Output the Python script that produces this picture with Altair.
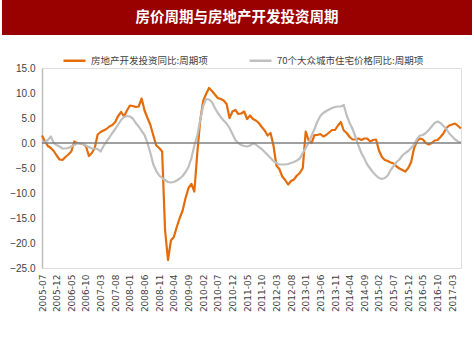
import altair as alt
import pandas as pd

title_text = "房价周期与房地产开发投资周期"
series_names = ["房地产开发投资同比:周期项", "70个大众城市住宅价格同比:周期项"]

# monthly categories 2005-07 .. 2017-06
months = [f"{2005 + (6 + i) // 12}-{(6 + i) % 12 + 1:02d}" for i in range(144)]
tick_labels = months[::5]

invest = [
    1.5, 0.3, -0.6, -1.0, -1.6, -2.5, -3.3, -3.4, -2.8, -2.3,
    -1.7, 0.3, 0.0, -0.1, -0.2, -0.6, -2.6, -2.0, -1.0, 1.7,
    2.2, 2.5, 2.8, 3.3, 3.6, 4.2, 5.4, 6.2, 5.3, 6.5,
    7.5, 7.4, 7.2, 7.3, 8.9, 6.5, 5.0, 3.6, 1.5, -0.5,
    -1.0, -1.7, -17.4, -23.4, -19.5, -18.8, -16.8, -15.0, -13.5, -11.0,
    -9.0, -8.2, -9.7, -2.0, 4.5, 8.4, 9.8, 11.0, 10.4, 9.7,
    9.0, 8.8, 8.5, 7.8, 5.0, 6.3, 6.6, 5.8, 5.9, 6.3,
    4.8, 5.5, 4.8, 4.5, 4.0, 3.2, 2.5, 1.5, 2.0, -0.5,
    -4.5, -5.2, -6.7, -7.4, -8.3, -7.6, -7.3, -6.5, -6.0, -5.0,
    2.3, 0.5, 0.0, 1.6, 1.6, 1.8, 1.3, 1.6, 2.1, 2.6,
    2.6, 3.5, 4.2, 2.5, 2.0, 1.2, 0.7, 0.7, 0.9, 0.6,
    0.9, 0.9, 0.3, 0.6, 0.7, -1.5, -2.8, -3.4, -3.6, -3.9,
    -4.1, -4.7, -5.1, -5.4, -5.7, -5.0, -3.8, -1.0, 0.4, 0.9,
    0.7, 0.0, -0.3, 0.0, 0.5, 0.6, 1.2, 1.9, 3.0, 3.5,
    3.7, 3.9, 3.4, 2.9,
]

price = [
    0.0, 0.2, 0.6, 1.3, 0.0, -0.4, -0.7, -1.1, -1.1, -1.0,
    -0.7, -0.4, -0.1, -0.1, -0.2, -0.5, -0.8, -1.1, -1.1, -1.2,
    -1.7, -0.6, 0.3, 1.1, 2.0, 2.8, 3.7, 4.6, 5.2, 5.4,
    5.3, 4.9, 4.0, 3.3, 2.4, 1.6, 0.0, -2.0, -4.3, -5.6,
    -6.5, -7.0, -7.4, -7.8, -7.9, -7.8, -7.5, -7.1, -6.6, -5.8,
    -4.8, -3.0, -0.5, 1.5, 4.6, 7.4, 8.8, 8.7, 8.2, 7.0,
    6.0, 5.2, 4.5, 3.9, 3.0, 1.8, 0.6, 0.0, -0.4, -0.6,
    -0.7, -0.5, -0.1, -0.3, -0.8, -1.2, -1.8, -2.4, -3.0, -3.6,
    -4.0, -4.3, -4.3, -4.3, -4.2, -4.0, -3.8, -3.5, -3.1, -2.0,
    -1.0, 0.0, 1.5, 2.8, 4.3, 5.4, 6.0, 6.4, 6.7, 7.0,
    7.2, 7.3, 7.3, 7.6, 5.5, 4.0, 2.8, 1.2, -0.5, -2.0,
    -3.1, -4.3, -5.1, -5.9, -6.5, -7.0, -7.2, -7.0, -6.5, -5.4,
    -4.6, -3.8, -3.3, -2.5, -2.0, -1.6, -1.0, -0.3, 0.8, 1.5,
    1.6, 2.0, 2.6, 3.3, 4.0, 4.3, 4.0, 3.4, 2.8, 1.9,
    1.3, 0.7, 0.3, 0.1,
]

y_ticks = [-25, -20, -15, -10, -5, 0, 5, 10, 15]

df = pd.concat([
    pd.DataFrame({"month": months, "value": invest, "series": series_names[0]}),
    pd.DataFrame({"month": months, "value": price, "series": series_names[1]}),
])

FONT = "Noto Sans CJK SC"
W, H = 419, 200

y_scale = alt.Scale(domain=[-25, 15], nice=False)
y_axis = alt.Axis(
    values=y_ticks, format=".1f", labelFontSize=10, labelColor="#404040",
    labelFont="Liberation Sans", labelPadding=7, domainColor="#BFBFBF", domainWidth=1.5,
    ticks=False, grid=False, title=None, labelOverlap=False,
)

x_enc = alt.X(
    "month:O",
    sort=months,
    scale=alt.Scale(type="point", padding=0, domain=months),
    axis=alt.Axis(
        values=tick_labels, labelAngle=-90, labelFontSize=9, labelColor="#404040",
        labelFont="DejaVu Sans", labelPadding=6, domain=False, ticks=False, title=None,
        labelBaseline="middle", labelOverlap=False,
    ),
)

lines = alt.Chart(df).mark_line(strokeWidth=2.2, strokeJoin="round").encode(
    x=x_enc,
    y=alt.Y("value:Q", scale=y_scale, axis=y_axis),
    color=alt.Color(
        "series:N",
        sort=series_names,
        scale=alt.Scale(domain=series_names, range=["#E46C0A", "#BFBFBF"]),
        legend=alt.Legend(
            orient="none", legendX=20, legendY=-20, direction="horizontal",
            title=None, symbolType="stroke", symbolSize=484, symbolStrokeWidth=2.5,
            labelFont=FONT, labelFontSize=9.5, labelColor="#404040", labelOffset=4,
            columnPadding=36, labelLimit=300,
        ),
    ),
)

zero = alt.Chart(pd.DataFrame({"z": [0]})).mark_rule(color="#7F7F7F", strokeWidth=1.5).encode(
    y=alt.Y("z:Q", scale=y_scale, axis=y_axis),
)

bar = alt.Chart(pd.DataFrame({"t": [title_text]})).mark_rect(color="#990000").encode(
    x=alt.value(-40), x2=alt.value(430), y=alt.value(-68), y2=alt.value(-33),
)
ttl = alt.Chart(pd.DataFrame({"t": [title_text]})).mark_text(
    font=FONT, fontSize=14.5, fontWeight="bold", color="white", baseline="middle", align="center",
).encode(x=alt.value(195), y=alt.value(-50), text="t:N")

chart = alt.layer(lines, zero, bar, ttl).properties(
    width=W, height=H,
    autosize=alt.AutoSizeParams(type="none"),
    padding={"left": 42, "top": 68, "right": 13, "bottom": 87},
).configure_view(stroke=None).configure(background="white")

chart.save("out.html", embed_options={"renderer": "svg", "actions": False})
